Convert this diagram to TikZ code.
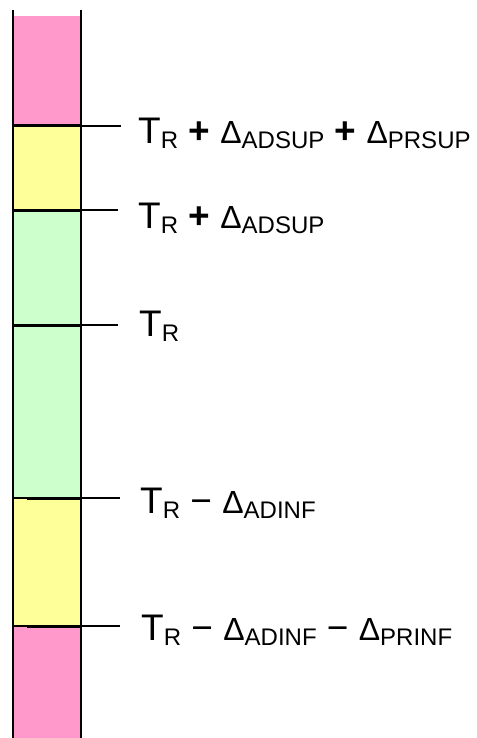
\documentclass[tikz,border=0pt]{standalone}
\usepackage{fontspec}
\setmainfont{Liberation Sans}
\definecolor{pinkz}{HTML}{FF99CC}
\definecolor{yellz}{HTML}{FFFF99}
\definecolor{greenz}{HTML}{CCFFCC}
\newcommand\sbs[1]{\raisebox{-5pt}{\fontsize{24}{24}\selectfont #1}}
\newcommand\dlt{{\fontsize{32}{32}\selectfont Δ}}
\newcommand\pls{\textbf{+}}
\begin{document}
\begin{tikzpicture}[x=1pt,y=-1pt,
  thinln/.style={line width=1.4pt},
  thickln/.style={line width=3pt},
  lbl/.style={anchor=base west,inner sep=0pt,font=\fontsize{37}{37}\selectfont}]
\useasboundingbox (0,0) rectangle (476,738);
% bands
\fill[pinkz] (13,16) rectangle (81,126);
\fill[yellz] (13,126) rectangle (81,210);
\fill[greenz] (13,210) rectangle (81,498);
\fill[yellz] (13,498) rectangle (81,626);
\fill[pinkz] (13,626) rectangle (81,738);
% sides
\draw[thinln] (13,10) -- (13,738);
\draw[thinln] (81,10) -- (81,738);
% boundaries
\coordinate (b1) at (81,126); \coordinate (e1) at (121,126);
\coordinate (b2) at (81,210); \coordinate (e2) at (118,210);
\coordinate (b3) at (81,325); \coordinate (e3) at (118,325);
\coordinate (b4) at (81,498); \coordinate (e4) at (120,498);
\coordinate (b5) at (81,626); \coordinate (e5) at (120,626);
\draw[thickln] (13,126) -- (b1);
\draw[thickln] (13,210) -- (b2);
\draw[thickln] (13,325) -- (b3);
\draw[thinln] (13,498) -- (27,498); \draw[thickln] (27,498) -- (b4);
\draw[thinln] (13,626) -- (27,626); \draw[thickln] (27,626) -- (b5);
\draw[thinln] (b1) -- (e1);
\draw[thinln] (b2) -- (e2);
\draw[thinln] (b3) -- (e3);
\draw[thinln] (b4) -- (e4);
\draw[thinln] (b5) -- (e5);
% labels
\node[lbl] (l1) at (138,144) {T\sbs{R} \pls{} \dlt\sbs{ADSUP} \pls{} \dlt\sbs{PRSUP}};
\node[lbl] (l2) at (138,228) {T\sbs{R} \pls{} \dlt\sbs{ADSUP}};
\node[lbl] (l3) at (139,336) {T\sbs{R}};
\node[lbl] (l4) at (140,513) {T\sbs{R} − \dlt\sbs{ADINF}};
\node[lbl] (l5) at (141,640) {T\sbs{R} − \dlt\sbs{ADINF} − \dlt\sbs{PRINF}};
\end{tikzpicture}
\end{document}
